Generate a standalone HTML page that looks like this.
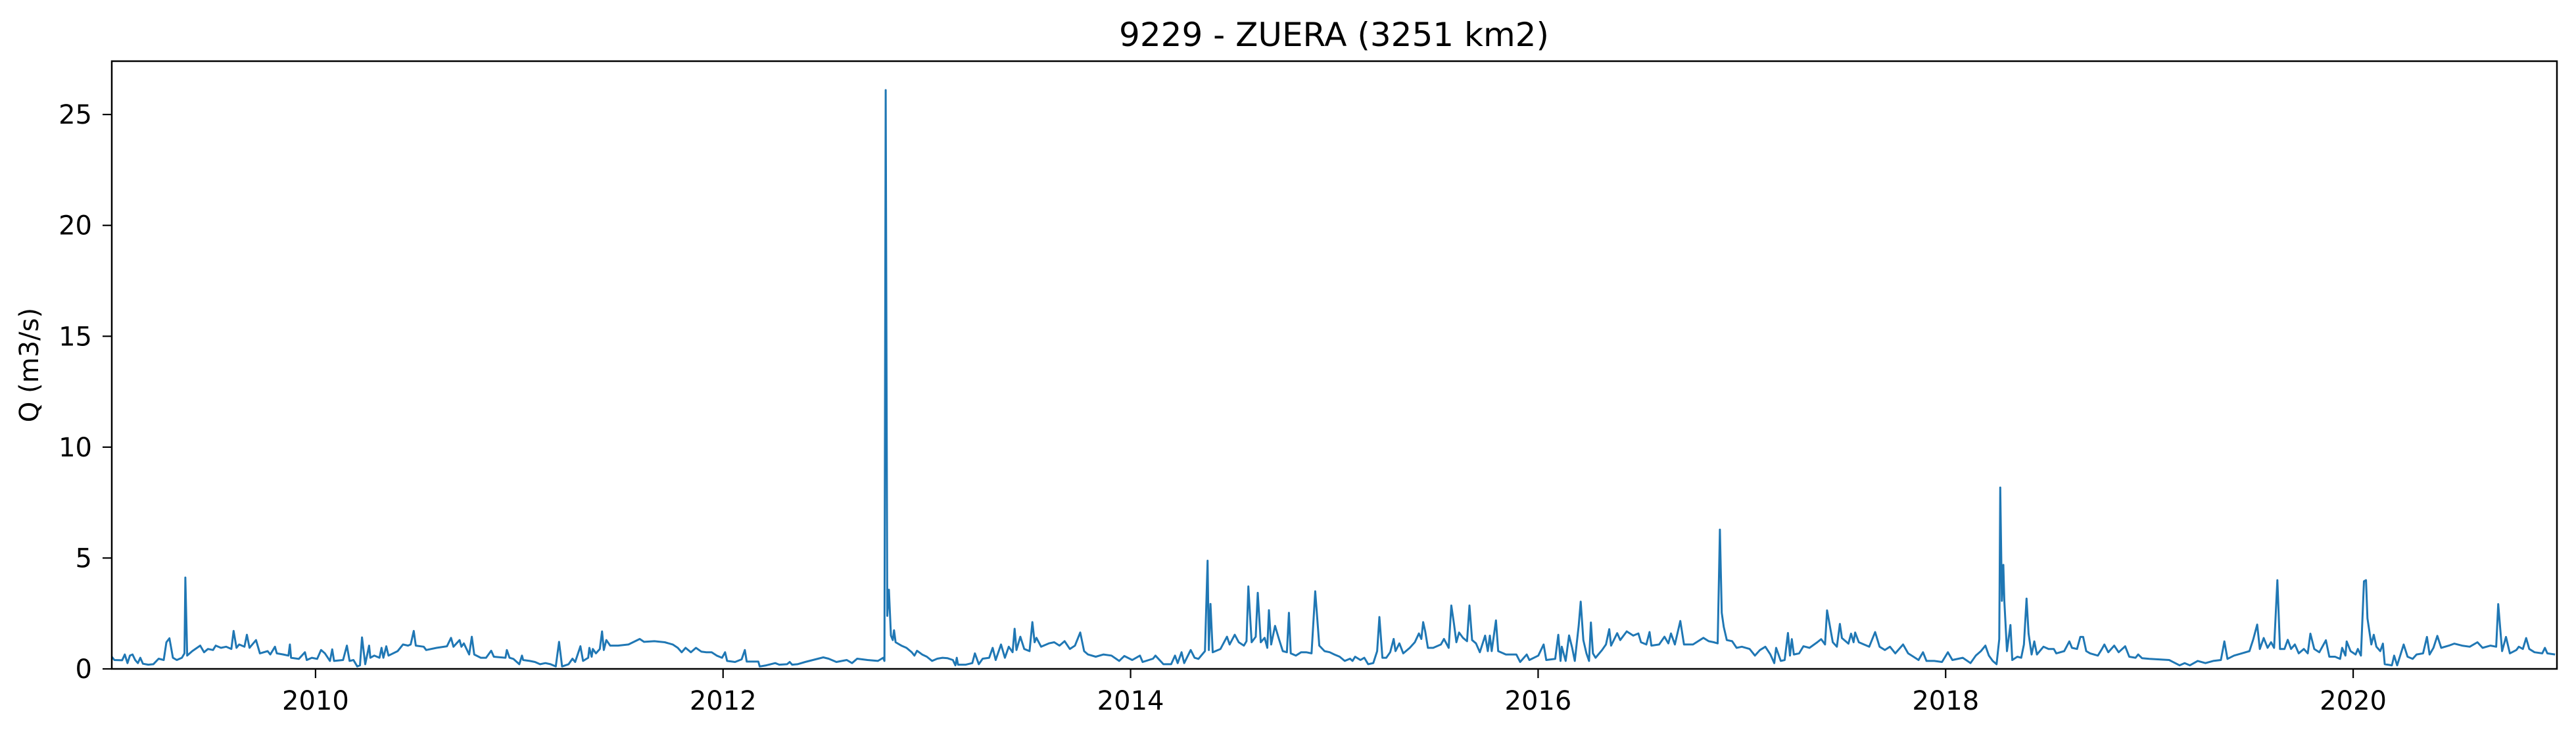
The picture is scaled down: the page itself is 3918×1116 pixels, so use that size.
<!DOCTYPE html>
<html><head><meta charset="utf-8"><style>
html,body{margin:0;padding:0;background:#fff;}
svg{display:block;font-family:"DejaVu Sans","Liberation Sans",sans-serif;}
</style></head><body>
<svg id="chart" width="3918" height="1116" viewBox="0 0 3918 1116" xmlns="http://www.w3.org/2000/svg">
<rect width="3918" height="1116" fill="#fff"/>
<text x="2029" y="70" font-size="50" text-anchor="middle" fill="#000">9229 - ZUERA (3251 km2)</text>
<text x="0" y="0" font-size="40" text-anchor="middle" fill="#000" transform="translate(58,555) rotate(-90)">Q (m3/s)</text>
<g id="plot"></g>
</svg>
<script>
const dates = [
2009.000,2009.013,2009.051,2009.064,2009.077,2009.089,2009.102,2009.115,2009.128,2009.140,2009.153,2009.179,2009.204,2009.230,2009.255,2009.268,2009.283,2009.300,2009.319,2009.344,2009.357,2009.361,2009.370,2009.395,2009.434,2009.453,2009.472,2009.497,2009.510,2009.536,2009.561,2009.587,2009.598,2009.612,2009.625,2009.651,2009.663,2009.676,2009.708,2009.727,2009.765,2009.778,2009.801,2009.810,2009.842,2009.867,2009.874,2009.880,2009.918,2009.948,2009.957,2009.982,
2010.008,2010.027,2010.046,2010.071,2010.082,2010.091,2010.135,2010.154,2010.167,2010.186,2010.205,2010.218,2010.228,2010.244,2010.263,2010.269,2010.288,2010.314,2010.324,2010.333,2010.347,2010.358,2010.403,2010.429,2010.454,2010.467,2010.482,2010.492,2010.531,2010.543,2010.594,2010.645,2010.665,2010.677,2010.707,2010.716,2010.728,2010.754,2010.767,2010.779,2010.811,2010.837,2010.862,2010.875,2010.932,2010.939,2010.952,2010.971,
2011.000,2011.013,2011.019,2011.051,2011.077,2011.102,2011.128,2011.153,2011.179,2011.195,2011.210,2011.242,2011.261,2011.274,2011.300,2011.313,2011.338,2011.344,2011.355,2011.361,2011.376,2011.395,2011.406,2011.415,2011.427,2011.446,2011.485,2011.536,2011.591,2011.612,2011.663,2011.714,2011.753,2011.778,2011.797,2011.816,2011.842,2011.867,2011.893,2011.918,2011.944,2011.969,2011.995,
2012.010,2012.020,2012.059,2012.091,2012.107,2012.116,2012.173,2012.180,2012.212,2012.256,2012.276,2012.314,2012.327,2012.339,2012.365,2012.403,2012.441,2012.492,2012.518,2012.556,2012.607,2012.633,2012.658,2012.709,2012.760,2012.786,2012.792,2012.798,2012.806,2012.814,2012.824,2012.833,2012.839,2012.847,2012.875,2012.900,2012.926,2012.939,2012.952,2012.977,
2013.000,2013.026,2013.051,2013.077,2013.102,2013.128,2013.140,2013.147,2013.153,2013.191,2013.223,2013.236,2013.255,2013.274,2013.306,2013.323,2013.338,2013.364,2013.383,2013.402,2013.421,2013.431,2013.440,2013.459,2013.478,2013.504,2013.518,2013.529,2013.538,2013.561,2013.599,2013.625,2013.651,2013.676,2013.702,2013.727,2013.753,2013.772,2013.791,2013.829,2013.867,2013.906,2013.944,2013.969,
2014.008,2014.046,2014.059,2014.110,2014.122,2014.161,2014.199,2014.218,2014.231,2014.250,2014.263,2014.295,2014.314,2014.333,2014.365,2014.378,2014.384,2014.392,2014.403,2014.441,2014.473,2014.486,2014.511,2014.531,2014.556,2014.569,2014.578,2014.594,2014.614,2014.624,2014.639,2014.658,2014.671,2014.679,2014.690,2014.709,2014.728,2014.747,2014.767,2014.777,2014.786,2014.811,2014.837,2014.862,2014.888,2014.906,2014.926,2014.952,2014.977,
2015.000,2015.026,2015.051,2015.077,2015.089,2015.102,2015.128,2015.147,2015.166,2015.191,2015.210,2015.221,2015.236,2015.255,2015.274,2015.291,2015.300,2015.319,2015.338,2015.370,2015.395,2015.415,2015.427,2015.436,2015.446,2015.459,2015.485,2015.523,2015.538,2015.561,2015.574,2015.587,2015.599,2015.612,2015.631,2015.651,2015.663,2015.676,2015.695,2015.714,2015.740,2015.753,2015.763,2015.772,2015.793,2015.804,2015.842,2015.893,2015.912,2015.944,2015.957,
2016.001,2016.027,2016.040,2016.084,2016.099,2016.110,2016.116,2016.135,2016.152,2016.167,2016.180,2016.199,2016.209,2016.222,2016.237,2016.250,2016.259,2016.269,2016.282,2016.314,2016.333,2016.349,2016.358,2016.388,2016.403,2016.435,2016.467,2016.492,2016.505,2016.531,2016.547,2016.556,2016.594,2016.620,2016.639,2016.652,2016.671,2016.698,2016.716,2016.760,2016.811,2016.837,2016.862,2016.881,2016.892,2016.901,2016.911,2016.926,2016.952,2016.974,
2017.000,2017.038,2017.064,2017.089,2017.115,2017.140,2017.159,2017.168,2017.191,2017.210,2017.226,2017.236,2017.245,2017.255,2017.281,2017.302,2017.332,2017.370,2017.389,2017.408,2017.418,2017.431,2017.446,2017.466,2017.481,2017.491,2017.523,2017.536,2017.548,2017.556,2017.574,2017.599,2017.625,2017.654,2017.676,2017.702,2017.727,2017.753,2017.791,2017.816,2017.842,2017.867,2017.889,2017.906,2017.944,2017.982,
2018.011,2018.033,2018.084,2018.122,2018.148,2018.173,2018.195,2018.212,2018.231,2018.250,2018.263,2018.268,2018.276,2018.283,2018.288,2018.301,2018.318,2018.327,2018.352,2018.371,2018.384,2018.397,2018.407,2018.422,2018.435,2018.448,2018.480,2018.505,2018.531,2018.543,2018.582,2018.607,2018.620,2018.645,2018.661,2018.675,2018.690,2018.709,2018.747,2018.767,2018.779,2018.798,2018.827,2018.849,2018.881,2018.901,2018.932,2018.945,2018.964,
2019.000,2019.097,2019.148,2019.173,2019.199,2019.237,2019.275,2019.313,2019.351,2019.368,2019.383,2019.415,2019.453,2019.491,2019.510,2019.529,2019.542,2019.561,2019.580,2019.597,2019.612,2019.628,2019.641,2019.663,2019.679,2019.695,2019.714,2019.733,2019.758,2019.777,2019.790,2019.809,2019.834,2019.866,2019.883,2019.911,2019.936,2019.946,2019.962,2019.968,2019.987,
2020.012,2020.023,2020.038,2020.053,2020.063,2020.070,2020.089,2020.101,2020.114,2020.133,2020.146,2020.155,2020.190,2020.201,2020.216,2020.248,2020.267,2020.292,2020.311,2020.343,2020.362,2020.375,2020.394,2020.413,2020.432,2020.470,2020.496,2020.534,2020.572,2020.610,2020.635,2020.674,2020.702,2020.712,2020.731,2020.750,2020.769,2020.801,2020.813,2020.833,2020.849,2020.864,2020.890,2020.928,2020.941,2020.953,2020.991
];
const flow = [
0.55,0.40,0.39,0.65,0.26,0.60,0.65,0.40,0.26,0.50,0.23,0.19,0.21,0.46,0.40,1.20,1.38,0.50,0.40,0.50,0.70,4.12,0.60,0.80,1.05,0.75,0.90,0.85,1.05,0.95,1.00,0.90,1.71,0.95,1.10,1.00,1.54,0.95,1.30,0.70,0.80,0.65,1.00,0.70,0.65,0.60,1.10,0.50,0.45,0.75,0.40,0.50,
0.45,0.85,0.70,0.36,0.88,0.36,0.40,1.05,0.36,0.40,0.11,0.16,1.42,0.21,1.05,0.50,0.60,0.50,0.95,0.50,1.02,0.60,0.80,1.10,1.05,1.10,1.71,1.05,1.00,0.85,0.95,1.02,1.40,1.00,1.30,1.00,1.15,0.65,1.45,0.65,0.50,0.50,0.82,0.55,0.50,0.85,0.50,0.45,
0.21,0.60,0.40,0.36,0.31,0.21,0.26,0.21,0.11,1.22,0.11,0.21,0.46,0.31,1.02,0.36,0.50,0.95,0.55,0.90,0.70,0.90,1.69,0.85,1.30,1.05,1.05,1.10,1.35,1.22,1.25,1.20,1.10,0.95,0.75,0.95,0.75,0.95,0.78,0.75,0.75,0.60,0.50,
0.75,0.36,0.31,0.43,0.85,0.33,0.33,0.11,0.16,0.26,0.19,0.21,0.31,0.19,0.21,0.31,0.40,0.52,0.46,0.31,0.40,0.26,0.46,0.40,0.36,0.50,0.36,26.10,2.39,3.57,1.50,1.30,1.74,1.20,1.05,0.95,0.75,0.60,0.82,0.65,
0.55,0.36,0.46,0.50,0.48,0.40,0.16,0.50,0.19,0.19,0.26,0.70,0.21,0.46,0.50,0.95,0.40,1.10,0.50,1.00,0.75,1.81,0.85,1.45,0.90,0.80,2.11,1.20,1.40,1.00,1.15,1.20,1.05,1.25,0.90,1.05,1.64,0.80,0.65,0.55,0.65,0.60,0.36,0.58,
0.40,0.60,0.31,0.46,0.60,0.21,0.21,0.60,0.26,0.75,0.26,0.85,0.50,0.45,0.80,4.88,0.85,2.93,0.75,0.90,1.45,1.10,1.54,1.20,1.05,1.25,3.72,1.20,1.45,3.43,1.20,1.40,0.95,2.65,1.10,1.94,1.35,0.80,0.75,2.53,0.70,0.60,0.75,0.75,0.70,3.50,1.05,0.80,0.75,
0.65,0.55,0.36,0.46,0.36,0.55,0.40,0.50,0.21,0.26,0.80,2.34,0.50,0.50,0.75,1.35,0.80,1.15,0.70,0.95,1.20,1.60,1.35,2.11,1.69,0.95,0.95,1.10,1.35,0.95,2.86,2.04,1.20,1.64,1.40,1.25,2.86,1.30,1.15,0.75,1.50,0.80,1.50,0.80,2.19,0.80,0.65,0.65,0.31,0.65,0.40,
0.60,1.10,0.40,0.45,1.54,0.36,1.00,0.36,1.51,0.95,0.36,1.94,3.03,1.30,0.70,0.36,2.09,0.70,0.50,0.85,1.10,1.79,1.05,1.61,1.30,1.69,1.50,1.60,1.20,1.10,1.66,1.05,1.10,1.45,1.15,1.60,1.10,2.16,1.10,1.10,1.40,1.25,1.20,1.15,6.28,2.53,1.89,1.30,1.25,0.95,
1.00,0.90,0.60,0.85,1.00,0.65,0.26,0.95,0.36,0.40,1.62,0.60,1.34,0.65,0.70,1.02,0.95,1.20,1.34,1.10,2.64,1.98,1.20,1.00,2.03,1.39,1.14,1.59,1.20,1.64,1.20,1.10,1.00,1.66,1.00,0.85,1.00,0.70,1.10,0.70,0.55,0.40,0.75,0.36,0.36,0.31,
0.75,0.40,0.50,0.26,0.60,0.80,1.05,0.60,0.36,0.21,1.34,8.18,3.07,4.69,3.07,0.80,1.98,0.40,0.55,0.50,1.10,3.17,1.59,0.65,1.24,0.65,1.00,0.90,0.90,0.70,0.80,1.24,0.95,0.90,1.44,1.44,0.80,0.70,0.60,0.90,1.10,0.75,1.05,0.75,1.02,0.55,0.50,0.65,0.48,
0.45,0.40,0.16,0.26,0.16,0.36,0.26,0.36,0.40,1.24,0.45,0.60,0.70,0.80,1.34,2.00,0.90,1.39,0.95,1.20,0.95,4.00,0.90,0.90,1.31,0.90,1.10,0.70,0.90,0.70,1.59,0.90,0.75,1.29,0.55,0.55,0.45,0.95,0.60,1.24,0.80,
0.65,0.90,0.60,3.95,4.00,2.28,1.10,1.54,1.00,0.80,1.14,0.21,0.16,0.60,0.16,1.10,0.55,0.45,0.65,0.70,1.44,0.65,0.95,1.49,0.95,1.05,1.14,1.05,1.00,1.20,0.95,1.05,1.00,2.92,0.80,1.44,0.70,0.85,1.00,0.90,1.39,0.90,0.75,0.70,0.95,0.70,0.65
];
const yTicks = [0,5,10,15,20,25];
const xTicks = [2010,2012,2014,2016,2018,2020];

const NS = "http://www.w3.org/2000/svg";
const L = 170, R = 3889, T = 93, B = 1017;
const xMin = 2009.0, xMax = 2021.0;
const yMax = Math.max(...flow) * 1.05;
function xs(v){ return L + (v - xMin) / (xMax - xMin) * (R - L); }
function ys(v){ return B - v / yMax * (B - T); }
const plot = document.getElementById('plot');
function mk(tag, attrs){ const e = document.createElementNS(NS, tag); for (const k in attrs) e.setAttribute(k, attrs[k]); plot.appendChild(e); return e; }

const clip = document.createElementNS(NS,'clipPath'); clip.setAttribute('id','pc');
const cr = document.createElementNS(NS,'rect'); cr.setAttribute('x',L); cr.setAttribute('y',T); cr.setAttribute('width',R-L); cr.setAttribute('height',B-T);
clip.appendChild(cr); plot.appendChild(clip);

let d = '';
for (let i = 0; i < dates.length; i++) d += (i ? 'L' : 'M') + xs(dates[i]).toFixed(1) + ',' + ys(flow[i]).toFixed(1);
const line = mk('path', {d: d, fill: 'none', stroke: '#1f77b4', 'stroke-width': 3, 'stroke-linejoin': 'round', 'clip-path': 'url(#pc)'});



const frame = mk('rect', {x: L, y: T, width: R - L, height: B - T, fill: 'none', stroke: '#000', 'stroke-width': 2.5});



yTicks.forEach(v => {
  const y = ys(v);
  const t = mk('line', {x1: L - 14, x2: L, y1: y, y2: y, stroke: '#000', 'stroke-width': 2.2});
  
  
  const lb = mk('text', {x: L - 30, y: y + 14, 'font-size': 40, 'text-anchor': 'end', fill: '#000'});
  lb.textContent = v;
  
  
});
xTicks.forEach(v => {
  const x = xs(v);
  const t = mk('line', {x1: x, x2: x, y1: B, y2: B + 14, stroke: '#000', 'stroke-width': 2.2});
  
  
  const lb = mk('text', {x: x, y: B + 62, 'font-size': 40, 'text-anchor': 'middle', fill: '#000'});
  lb.textContent = v;
  
  
});
</script>
</body></html>
